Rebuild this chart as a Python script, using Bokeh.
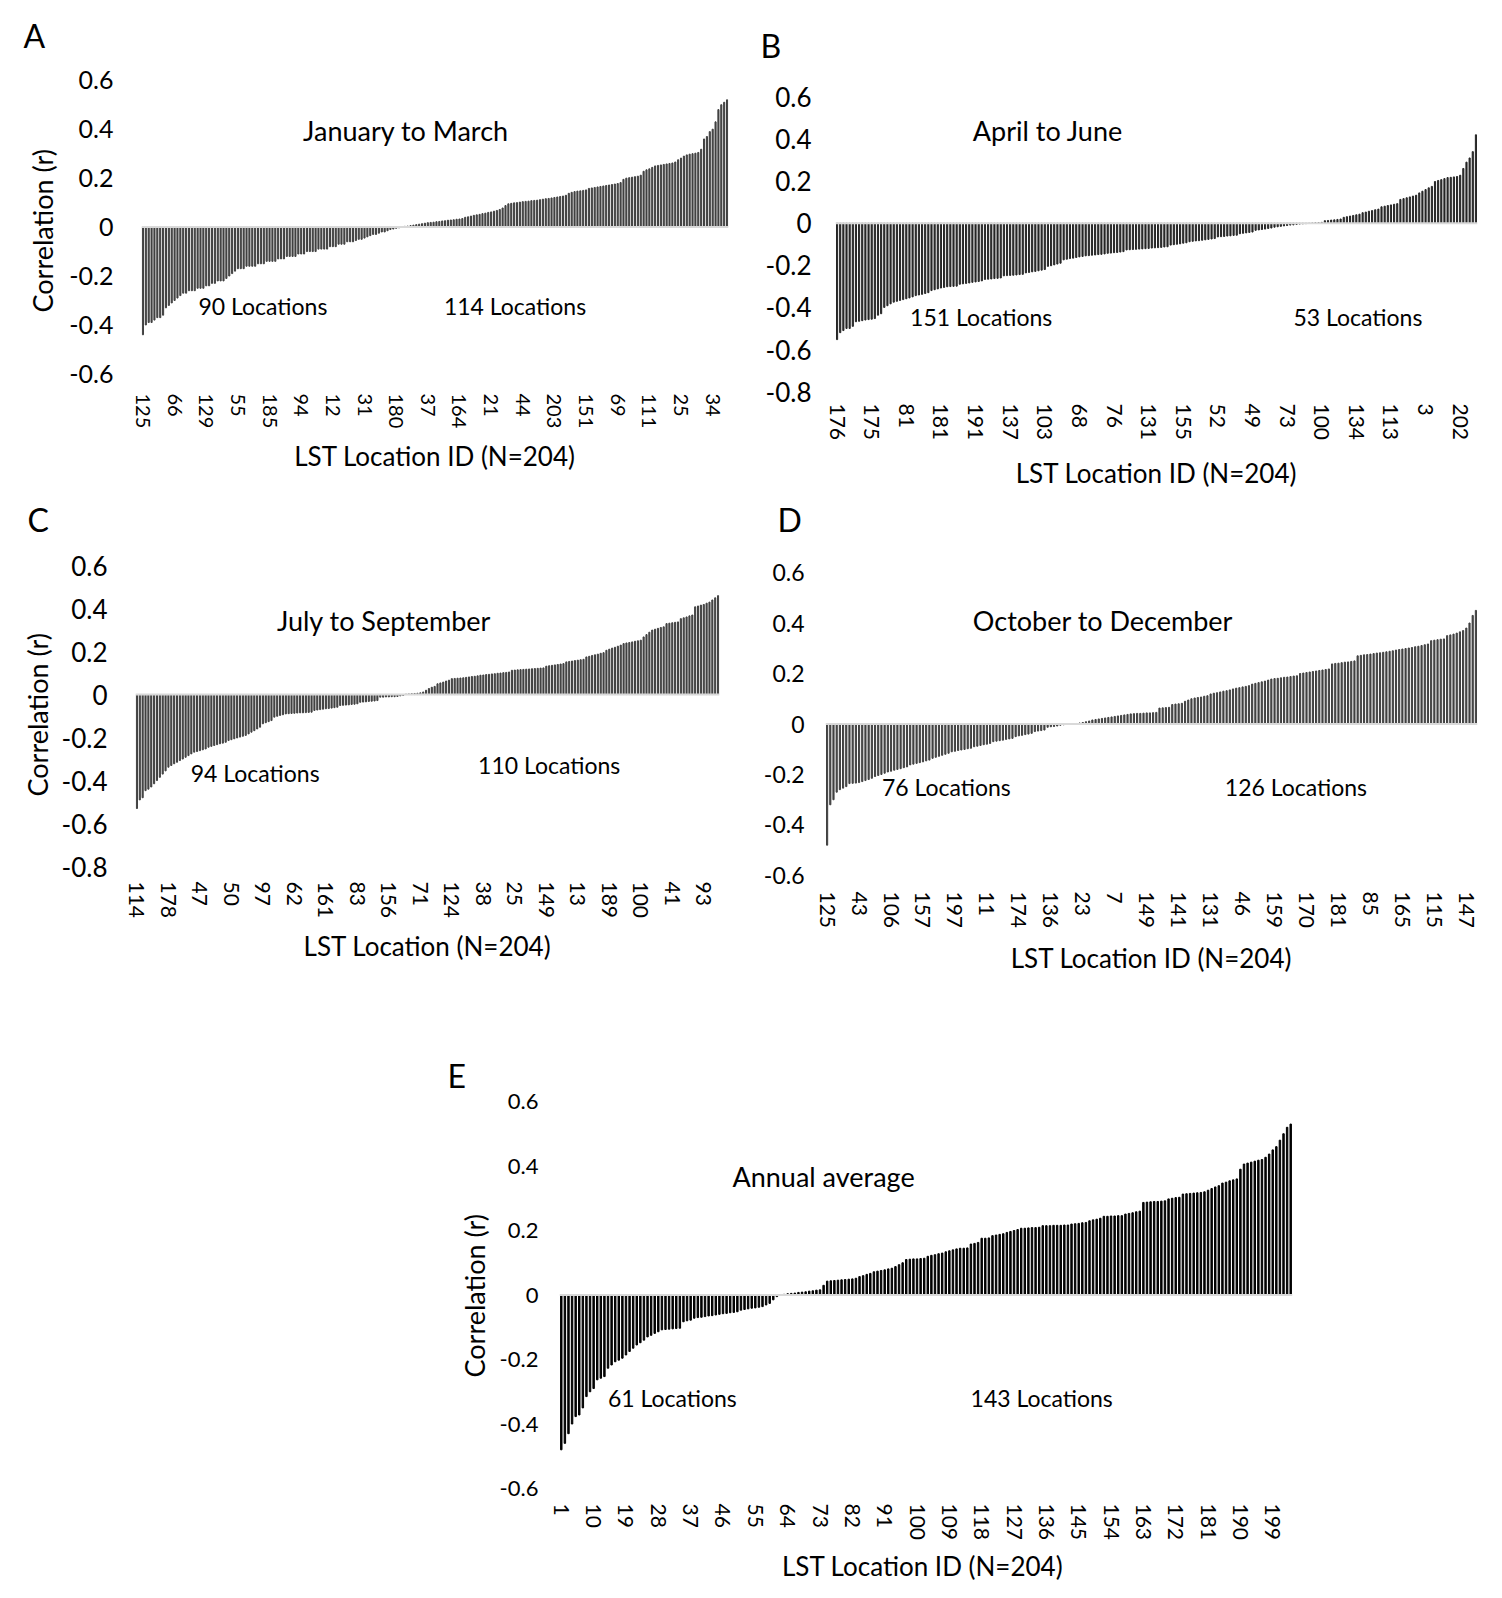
from bokeh.plotting import figure
from bokeh.models import Range1d, FixedTicker, Span, Label, Spacer, Title
from bokeh.layouts import column, row
from bokeh.embed import file_html
from bokeh.resources import INLINE

FONT = "Lato"

# ---------------- data (sorted correlations, 204 locations per panel) ----------------
jan_mar = [
    -0.44, -0.40, -0.39, -0.39, -0.38, -0.37, -0.37, -0.36, -0.33, -0.32,
    -0.31, -0.30, -0.29, -0.28, -0.27, -0.27, -0.26, -0.26, -0.26, -0.25,
    -0.25, -0.25, -0.24, -0.24, -0.23, -0.23, -0.22, -0.22, -0.22, -0.21,
    -0.20, -0.19, -0.18, -0.17, -0.17, -0.17, -0.16, -0.16, -0.16, -0.16,
    -0.15, -0.15, -0.15, -0.14, -0.14, -0.14, -0.14, -0.13, -0.13, -0.13,
    -0.12, -0.12, -0.12, -0.12, -0.11, -0.11, -0.11, -0.10, -0.10, -0.10,
    -0.10, -0.09, -0.09, -0.09, -0.09, -0.08, -0.08, -0.08, -0.07, -0.07,
    -0.07, -0.06, -0.06, -0.06, -0.055, -0.05, -0.05, -0.045, -0.04, -0.035,
    -0.03, -0.03, -0.025, -0.02, -0.02, -0.015, -0.01, -0.008, -0.005, -0.003,
    0.002, 0.003, 0.004, 0.006, 0.008, 0.010, 0.012,
    0.014, 0.016, 0.018, 0.019, 0.020, 0.022, 0.023,
    0.025, 0.026, 0.028, 0.029, 0.030, 0.032, 0.033, 0.035,
    0.040, 0.042, 0.045, 0.048, 0.050,
    0.052, 0.055, 0.057, 0.060, 0.062, 0.065, 0.068, 0.072,
    0.078, 0.088,
    0.095, 0.097, 0.099, 0.100, 0.102,
    0.104, 0.105, 0.106, 0.108, 0.109, 0.110,
    0.112, 0.114, 0.116, 0.117, 0.119, 0.121, 0.123, 0.125, 0.127, 0.130,
    0.138, 0.142, 0.145, 0.147, 0.148, 0.150, 0.152,
    0.158, 0.160, 0.162, 0.164, 0.166, 0.168, 0.170, 0.172, 0.174, 0.176, 0.178, 0.182,
    0.195, 0.200, 0.202, 0.204, 0.206, 0.208, 0.212,
    0.228, 0.234, 0.238, 0.244,
    0.250, 0.252, 0.254, 0.256, 0.258, 0.260, 0.262, 0.266,
    0.275, 0.282, 0.290, 0.295, 0.298, 0.300, 0.302, 0.305, 0.318,
    0.36, 0.37, 0.39, 0.40, 0.43, 0.48, 0.50, 0.51, 0.52,
]

apr_jun = [
    -0.553, -0.52, -0.51, -0.50, -0.50, -0.49,
    -0.468, -0.466, -0.463, -0.460, -0.458, -0.456, -0.453,
    -0.437, -0.43,
    -0.40, -0.392, -0.383,
    -0.375, -0.371, -0.367, -0.363, -0.359, -0.355, -0.350,
    -0.344, -0.341, -0.338, -0.334, -0.330,
    -0.320, -0.316, -0.312, -0.308, -0.305,
    -0.302, -0.301, -0.300, -0.299,
    -0.290, -0.288, -0.286, -0.284, -0.281, -0.279, -0.277, -0.274,
    -0.267, -0.266, -0.265, -0.263, -0.262, -0.260,
    -0.250, -0.249, -0.248, -0.247, -0.246, -0.244, -0.243,
    -0.236, -0.234, -0.231, -0.229, -0.226, -0.223, -0.220,
    -0.205, -0.202, -0.198, -0.194, -0.190,
    -0.174, -0.171, -0.168, -0.166, -0.163, -0.160, -0.158,
    -0.155, -0.154, -0.152, -0.151, -0.149, -0.148, -0.146,
    -0.143, -0.142, -0.140, -0.139, -0.137, -0.135,
    -0.127, -0.126, -0.125, -0.124,
    -0.123, -0.122, -0.121, -0.120, -0.118, -0.117, -0.116, -0.115, -0.113, -0.112,
    -0.104, -0.102, -0.100, -0.098, -0.095, -0.093,
    -0.088, -0.086, -0.084, -0.083, -0.081, -0.079, -0.077, -0.075, -0.073,
    -0.065, -0.064, -0.063, -0.061, -0.060, -0.058, -0.057,
    -0.050, -0.048, -0.046, -0.044, -0.042,
    -0.034, -0.032, -0.030, -0.028, -0.025, -0.023,
    -0.019, -0.017, -0.015, -0.013, -0.011, -0.009, -0.008, -0.006,
    -0.004, -0.003, -0.002, -0.001,
    0.001, 0.002, 0.003, 0.004,
    0.012, 0.013, 0.015, 0.016, 0.018, 0.020,
    0.028, 0.031, 0.034, 0.037, 0.040, 0.043,
    0.050, 0.053, 0.057, 0.060, 0.064, 0.067,
    0.078, 0.081, 0.084, 0.087, 0.090, 0.093,
    0.113, 0.117, 0.121, 0.125, 0.129, 0.133,
    0.144, 0.152, 0.160, 0.168, 0.175,
    0.198, 0.203, 0.207, 0.212, 0.217,
    0.218, 0.220, 0.222, 0.228, 0.26, 0.29, 0.31, 0.34, 0.42,
]

jul_sep = [
    -0.53, -0.49, -0.48, -0.447, -0.44, -0.43, -0.415, -0.40, -0.385, -0.37, -0.355,
    -0.338, -0.330, -0.322, -0.315, -0.307,
    -0.300, -0.292, -0.284, -0.276,
    -0.268, -0.265, -0.261, -0.257, -0.253,
    -0.245, -0.241, -0.237, -0.233, -0.229, -0.226, -0.222,
    -0.214, -0.210, -0.206, -0.202, -0.198, -0.194, -0.190,
    -0.183, -0.175, -0.168, -0.160, -0.152,
    -0.136, -0.131, -0.126, -0.121,
    -0.105, -0.101, -0.097, -0.094, -0.090,
    -0.089, -0.088, -0.087, -0.086, -0.085, -0.085, -0.084, -0.083, -0.082,
    -0.074, -0.072, -0.070, -0.068, -0.066, -0.065, -0.063, -0.061, -0.059,
    -0.051, -0.050, -0.049, -0.048, -0.046, -0.045, -0.043,
    -0.036, -0.035, -0.034, -0.032, -0.031, -0.030, -0.028,
    -0.012, -0.012, -0.011, -0.011, -0.010, -0.010, -0.009,
    -0.006, -0.004,
    0.002, 0.003, 0.004, 0.005, 0.006, 0.008,
    0.012, 0.020, 0.028,
    0.034, 0.038,
    0.050, 0.054, 0.058, 0.063, 0.067,
    0.074, 0.075, 0.076, 0.077,
    0.078, 0.080, 0.082, 0.084, 0.085, 0.087,
    0.090, 0.091, 0.093, 0.094, 0.096, 0.097, 0.099, 0.100, 0.102, 0.103, 0.105,
    0.113, 0.114, 0.115, 0.116, 0.117, 0.118, 0.119, 0.120, 0.121, 0.122, 0.123, 0.124,
    0.132, 0.134, 0.136, 0.138, 0.140, 0.142, 0.144,
    0.152, 0.154, 0.156, 0.158, 0.160, 0.162, 0.164,
    0.175, 0.178, 0.182, 0.185, 0.188, 0.192, 0.195,
    0.206, 0.211, 0.216, 0.220, 0.225, 0.230,
    0.237, 0.240, 0.242, 0.245, 0.248, 0.250, 0.253,
    0.268, 0.279, 0.290,
    0.300, 0.304, 0.308, 0.312, 0.315,
    0.330, 0.332, 0.334, 0.336, 0.338,
    0.353, 0.357, 0.361, 0.366, 0.370,
    0.408, 0.412, 0.416, 0.419, 0.425, 0.430, 0.440, 0.450, 0.460,
]

oct_dec = [
    -0.48, -0.32, -0.30, -0.27,
    -0.260, -0.254, -0.248,
    -0.236, -0.235, -0.234, -0.232,
    -0.228, -0.224, -0.220, -0.215,
    -0.208, -0.204, -0.200, -0.195,
    -0.190, -0.187, -0.183, -0.180, -0.177, -0.173, -0.170,
    -0.162, -0.159, -0.156, -0.153, -0.150, -0.146, -0.143,
    -0.136, -0.132, -0.128, -0.124, -0.120, -0.116,
    -0.110, -0.108, -0.105, -0.103, -0.101, -0.098, -0.096,
    -0.090, -0.088, -0.085, -0.082, -0.080, -0.077,
    -0.070, -0.068, -0.066, -0.064, -0.061, -0.059, -0.057,
    -0.050, -0.047, -0.045, -0.042, -0.040, -0.037,
    -0.030, -0.028, -0.026, -0.024,
    -0.013, -0.011, -0.010, -0.008,
    -0.005, -0.003, -0.002,
    0.0, 0.0,
    0.002, 0.004, 0.006,
    0.009, 0.012, 0.016, 0.018, 0.020, 0.022, 0.024,
    0.026, 0.028, 0.030, 0.032, 0.034, 0.036, 0.038,
    0.040, 0.041, 0.042, 0.042, 0.043, 0.044, 0.044, 0.045, 0.046,
    0.063, 0.064, 0.065, 0.066,
    0.077, 0.079, 0.080, 0.082,
    0.090, 0.095, 0.100,
    0.103, 0.105, 0.107, 0.110, 0.112,
    0.119, 0.122, 0.124, 0.127, 0.130, 0.132, 0.135,
    0.139, 0.142, 0.144, 0.147, 0.149, 0.152,
    0.158, 0.161, 0.164, 0.167, 0.170, 0.174,
    0.178, 0.180, 0.181, 0.183, 0.185, 0.186, 0.188, 0.190, 0.191,
    0.200, 0.202, 0.204, 0.206, 0.208, 0.210, 0.212, 0.214, 0.216, 0.218,
    0.238, 0.240, 0.241, 0.243, 0.245, 0.246, 0.248, 0.250,
    0.270, 0.272, 0.274, 0.275, 0.277, 0.279, 0.281, 0.282, 0.284, 0.286, 0.288, 0.290,
    0.293, 0.295, 0.297, 0.299, 0.301, 0.303, 0.306, 0.308, 0.311, 0.314, 0.317,
    0.330, 0.332, 0.334, 0.336, 0.337,
    0.350, 0.353, 0.356,
    0.360, 0.365, 0.370, 0.380, 0.400, 0.430, 0.450,
]

annual = [
    -0.48, -0.46, -0.43, -0.40, -0.377, -0.372, -0.35, -0.315, -0.30, -0.29,
    -0.263, -0.258, -0.253, -0.227, -0.217, -0.207, -0.202, -0.196,
    -0.186, -0.175, -0.165, -0.155, -0.148, -0.140,
    -0.130, -0.125, -0.119, -0.114,
    -0.108, -0.107, -0.106, -0.105, -0.104, -0.103,
    -0.083, -0.080, -0.078,
    -0.072, -0.070, -0.069, -0.067, -0.065, -0.064, -0.062,
    -0.060, -0.058, -0.057, -0.055, -0.054, -0.052,
    -0.047, -0.045, -0.043, -0.041, -0.040, -0.038, -0.036,
    -0.031, -0.026, -0.015, -0.005,
    0.001, 0.002, 0.004,
    0.005, 0.006, 0.008, 0.009, 0.010, 0.012, 0.013, 0.015, 0.016,
    0.030, 0.043,
    0.044, 0.045, 0.046, 0.047, 0.048, 0.049, 0.050, 0.052,
    0.057, 0.060, 0.064, 0.067,
    0.072, 0.074, 0.076, 0.078, 0.081, 0.083,
    0.088, 0.094, 0.100,
    0.110, 0.111, 0.112, 0.112, 0.113, 0.114,
    0.120, 0.123, 0.125, 0.128, 0.130,
    0.134, 0.137, 0.140, 0.143,
    0.145, 0.145, 0.146,
    0.158, 0.160, 0.163,
    0.176, 0.176, 0.177,
    0.184, 0.186, 0.188, 0.190,
    0.194, 0.197, 0.200, 0.203,
    0.207, 0.207, 0.208, 0.209, 0.209, 0.210,
    0.215, 0.215, 0.215, 0.216, 0.216, 0.216, 0.217, 0.217,
    0.220, 0.221, 0.222, 0.224, 0.225,
    0.230, 0.233, 0.235, 0.238,
    0.244, 0.244, 0.245, 0.245, 0.246, 0.246,
    0.251, 0.253, 0.255, 0.258, 0.260,
    0.287, 0.288, 0.289, 0.290, 0.290, 0.291, 0.292,
    0.298, 0.300, 0.302, 0.303,
    0.313, 0.314, 0.315, 0.316, 0.317, 0.318,
    0.320, 0.325, 0.330, 0.335, 0.339,
    0.347, 0.350, 0.354, 0.357, 0.360,
    0.390,
    0.406, 0.409, 0.412, 0.415, 0.418, 0.420,
    0.427, 0.437,
    0.450, 0.460, 0.480, 0.500, 0.520, 0.530,
]

# x-axis tick labels (location IDs shown under every n-th bar)
ids_a = ["125", "66", "129", "55", "185", "94", "12", "31", "180", "37", "164",
         "21", "44", "203", "151", "69", "111", "25", "34"]
ids_b = ["176", "175", "81", "181", "191", "137", "103", "68", "76", "131", "155",
         "52", "49", "73", "100", "134", "113", "3", "202"]
ids_c = ["114", "178", "47", "50", "97", "62", "161", "83", "156", "71", "124",
         "38", "25", "149", "13", "189", "100", "41", "93"]
ids_d = ["125", "43", "106", "157", "197", "11", "174", "136", "23", "7", "149",
         "141", "131", "46", "159", "170", "181", "85", "165", "115", "147"]
ids_e = ["1", "10", "19", "28", "37", "46", "55", "64", "73", "82", "91", "100",
         "109", "118", "127", "136", "145", "154", "163", "172", "181", "190", "199"]

yt_six = [-0.6, -0.4, -0.2, 0, 0.2, 0.4, 0.6]
yl_six = ["-0.6", "-0.4", "-0.2", "0", "0.2", "0.4", "0.6"]
yt_eight = [-0.8, -0.6, -0.4, -0.2, 0, 0.2, 0.4, 0.6]
yl_eight = ["-0.8", "-0.6", "-0.4", "-0.2", "0", "0.2", "0.4", "0.6"]


def panel(values, ids, step, yt, yl, ylo, yhi, w, h, mbl, mbr, mbt, mbb,
          title, title_xy, notes, letter, letter_off, letter_stand,
          ylabel, ylab_off, ylab_stand, xlabel,
          bar_color, bar_w, ytick_size, xtick_size, ystand, xstand, xlab_stand):
    n = len(values)
    idx = list(range(1, n + 1))
    p = figure(width=w, height=h, output_backend="svg", toolbar_location=None,
               x_range=Range1d(0.5, n + 0.5), y_range=Range1d(ylo, yhi),
               min_border_left=mbl, min_border_right=mbr,
               min_border_top=mbt, min_border_bottom=mbb)
    p.outline_line_color = None
    p.grid.visible = False
    p.background_fill_color = "white"
    p.border_fill_color = "white"

    p.vbar(x=idx, top=values, bottom=0, width=bar_w, color=bar_color)
    p.add_layout(Span(location=0, dimension="width", line_color="#d9d9d9", line_width=2))

    tick_pos = idx[::step][:len(ids)]
    p.xaxis.ticker = FixedTicker(ticks=tick_pos)
    p.xaxis.major_label_overrides = {t: s for t, s in zip(tick_pos, ids)}
    p.xaxis.major_label_orientation = "vertical"
    p.yaxis.ticker = FixedTicker(ticks=yt)
    p.yaxis.major_label_overrides = {t: s for t, s in zip(yt, yl)}
    for ax in (p.xaxis[0], p.yaxis[0]):
        ax.axis_line_color = None
        ax.major_tick_line_color = None
        ax.minor_tick_line_color = None
        ax.major_tick_out = 0
        ax.major_tick_in = 0
        ax.major_label_text_font = FONT
        ax.major_label_text_color = "black"
        ax.axis_label_text_font = FONT
        ax.axis_label_text_font_style = "normal"
        ax.axis_label_text_color = "black"
    p.xaxis.axis_label_text_font_size = "26px"
    p.yaxis.major_label_text_font_size = ytick_size
    p.xaxis.major_label_text_font_size = xtick_size
    p.yaxis.major_label_standoff = ystand
    p.xaxis.major_label_standoff = xstand
    p.xaxis.axis_label = xlabel
    p.xaxis.axis_label_standoff = xlab_stand

    # y-axis title as a side title (offset measured up from the frame bottom)
    if ylabel:
        p.add_layout(Title(text=ylabel, align="left", offset=ylab_off,
                           standoff=ylab_stand, text_font=FONT, text_font_size="27px",
                           text_font_style="normal", text_color="black"), "left")

    # panel letter as the figure title, pulled to the left of the frame
    p.title.text = letter
    p.title.align = "left"
    p.title.offset = letter_off
    p.title.standoff = letter_stand
    p.title.text_font = FONT
    p.title.text_font_size = "32px"
    p.title.text_font_style = "normal"
    p.title.text_color = "black"

    p.add_layout(Label(x=title_xy[0], y=title_xy[1], text=title, text_font=FONT,
                       text_font_size="27px", text_align="center",
                       text_baseline="middle", text_color="black"))
    for (nx, ny, txt) in notes:
        p.add_layout(Label(x=nx, y=ny, text=txt, text_font=FONT,
                           text_font_size="23px", text_align="center",
                           text_baseline="middle", text_color="black"))
    return p


# row 1: frames share top (y=68) and bottom (y=400)
pa = panel(jan_mar, ids_a, 11, yt_six, yl_six, -0.68, 0.648, 737, 492, 133, 17, 68, 92,
           "January to March", (92.4, 0.396),
           [(42.7, -0.322, "90 Locations"), (130.3, -0.322, "114 Locations")],
           "A", -118, 27, "Correlation (r)", 81, 16, "LST Location ID (N=204)",
           "#404040", 0.38, "25px", "20px", 28, 0, 9)

pb = panel(apr_jun, ids_b, 11, yt_eight, yl_eight, -0.809, 0.735, 749, 492, 90, 17, 68, 92,
           "April to June", (68.0, 0.442),
           [(46.8, -0.445, "151 Locations"), (166.5, -0.445, "53 Locations")],
           "B", -75, 7, None, 0, 0, "LST Location ID (N=204)",
           "#262626", 0.36, "26px", "21px", 24, 10, 14)

# row 2: frames share top (y=544) and bottom (y=877)
pc = panel(jul_sep, ids_c, 11, yt_eight, yl_eight, -0.851, 0.698, 737, 518, 127, 26, 52, 133,
           "July to September", (87.3, 0.344),
           [(42.3, -0.363, "94 Locations"), (145.0, -0.33, "110 Locations")],
           "C", -108, 11, "Correlation (r)", 81, 10, "LST Location (N=204)",
           "#404040", 0.38, "26px", "21px", 28, 4, 9)

pd_ = panel(oct_dec, ids_d, 10, yt_six, yl_six, -0.608, 0.711, 749, 518, 80, 17, 52, 133,
            "October to December", (87.3, 0.41),
            [(38.3, -0.248, "76 Locations"), (147.7, -0.248, "126 Locations")],
            "D", -48, 11, None, 0, 0, "LST Location ID (N=204)",
            "#404040", 0.36, "23px", "21px", 21, 14, 11)

pe = panel(annual, ids_e, 9, yt_six, yl_six, -0.6, 0.6, 882, 580, 119, 30, 91, 102,
           "Annual average", (74.0, 0.367),
           [(31.9, -0.318, "61 Locations"), (134.7, -0.318, "143 Locations")],
           "E", -112, 13, "Correlation (r)", 111, 12, "LST  Location ID (N=204)",
           "black", 0.4, "22px", "21px", 21, 15, 7)

layout = column(
    row(Spacer(width=8, height=492), pa, pb),
    row(Spacer(width=8, height=518), pc, pd_),
    row(Spacer(width=440, height=580), pe),
)

open("out.html", "w").write(file_html(layout, INLINE))
